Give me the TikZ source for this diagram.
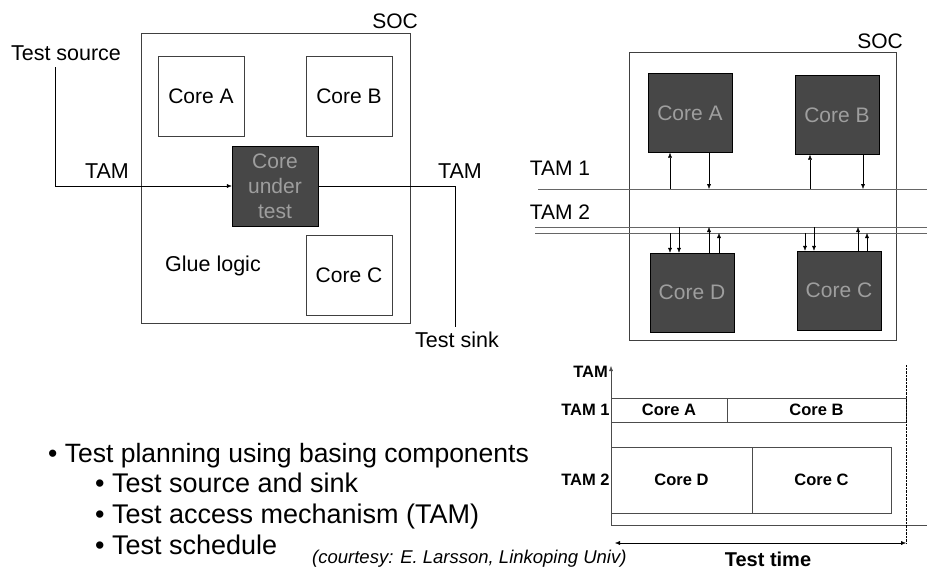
\documentclass[tikz,border=0pt]{standalone}
\usepackage{fontspec}
\setmainfont{Liberation Sans}
\usetikzlibrary{arrows.meta}

\begin{document}
\begin{tikzpicture}[x=1pt, y=-1pt, >={Latex[length=5pt,width=4pt]},
  font=\fontsize{21}{25}\selectfont,
  core/.style={rectangle, draw=black!75, fill=white, minimum width=86pt, minimum height=80pt, inner sep=0pt},
  dark/.style={rectangle, draw=black, fill=black!72, text=black!38, minimum width=84pt, minimum height=79pt, inner sep=0pt, align=center, font=\fontsize{21}{25}\selectfont},
  bus/.style={draw=black!60, line width=0.9pt},
  slot/.style={rectangle, draw=black!70, inner sep=0pt, font=\fontsize{16.5}{19}\selectfont\bfseries},
  lab/.style={inner sep=1pt, font=\fontsize{16.5}{19}\selectfont\bfseries},
  bullet/.style={anchor=base west, inner sep=0pt, font=\fontsize{27}{30}\selectfont}]
\useasboundingbox (0,0) rectangle (927,571);

% left: one core under test in the SOC
\node (soc1) [rectangle, draw=black!75, minimum width=269pt, minimum height=290pt] at (275.5,178) {};
\node (soc1lab) at (395,21) {SOC};
\node (la) [core] at (201,96) {Core A};
\node (lb) [core] at (349,96) {Core B};
\node (dut) [dark, minimum width=86pt, minimum height=80pt] at (275,186) {Core\\under\\test};
\node (lc) [core] at (349,275) {Core C};
\node (glue) [font=\fontsize{21.5}{25}\selectfont] at (213,266) {Glue logic};
\node (src) [font=\fontsize{21.5}{25}\selectfont] at (66,53) {Test source};
\node (snk) [font=\fontsize{21.5}{25}\selectfont] at (457,340) {Test sink};
\node (tamin) [font=\fontsize{21.5}{25}\selectfont] at (107,171) {TAM};
\node (tamout) [font=\fontsize{21.5}{25}\selectfont] at (460,171) {TAM};
\coordinate (srcend) at (55,67);
\coordinate (snkend) at (455,327);
\draw [->] (srcend) |- (dut.west);
\draw (dut.east) -| (snkend);

% right: cores on two TAMs
\node (soc2) [rectangle, draw=black!75, minimum width=267pt, minimum height=288pt] at (762.5,196) {};
\node (soc2lab) at (880,41) {SOC};
\node (ra) [dark] at (690,113) {Core A};
\node (rb) [dark] at (837,115) {Core B};
\node (rd) [dark] at (692,292.5) {Core D};
\node (rc) [dark] at (839,290.5) {Core C};
\coordinate (t1l) at (538,189);
\coordinate (t1r) at (927,189);
\coordinate (t2al) at (535,227);
\coordinate (t2ar) at (927,227);
\coordinate (t2bl) at (535,233);
\coordinate (t2br) at (927,233);
\draw [bus] (t1l) -- (t1r);
\draw [bus] (t2al) -- (t2ar);
\draw [bus] (t2bl) -- (t2br);
\node (tam1lab) at (560,168) {TAM 1};
\node (tam2lab) at (560,212) {TAM 2};
\draw [->] ([xshift=-20pt]ra.south |- t1l) -- ([xshift=-20pt]ra.south);
\draw [->] ([xshift=19pt]ra.south) -- ([xshift=19pt]ra.south |- t1l);
\draw [->] ([xshift=-27pt]rb.south |- t1l) -- ([xshift=-27pt]rb.south);
\draw [->] ([xshift=26pt]rb.south) -- ([xshift=26pt]rb.south |- t1l);
\draw [->] ([xshift=-22pt]rd.north |- t2bl) -- ([xshift=-22pt]rd.north);
\draw [->] ([xshift=-13pt]rd.north |- t2al) -- ([xshift=-13pt]rd.north);
\draw [->] ([xshift=17pt]rd.north) -- ([xshift=17pt]rd.north |- t2al);
\draw [->] ([xshift=27pt]rd.north) -- ([xshift=27pt]rd.north |- t2bl);
\draw [->] ([xshift=-34pt]rc.north |- t2bl) -- ([xshift=-34pt]rc.north);
\draw [->] ([xshift=-25pt]rc.north |- t2al) -- ([xshift=-25pt]rc.north);
\draw [->] ([xshift=19pt]rc.north) -- ([xshift=19pt]rc.north |- t2al);
\draw [->] ([xshift=28pt]rc.north) -- ([xshift=28pt]rc.north |- t2bl);

% test schedule
\coordinate (org) at (611,525);
\coordinate (ytop) at (611,366);
\coordinate (xend) at (927,525);
\draw [->, black!70] (org) -- (ytop);
\draw [black!70] (org) -- (xend);
\node (tamax) [lab, anchor=east] at (609,372) {TAM};
\node (sa) [slot, minimum width=116pt, minimum height=24pt] at (669,410) {Core A};
\node (sb) [slot, minimum width=179pt, minimum height=24pt] at (816.5,410) {Core B};
\node (sd) [slot, minimum width=141pt, minimum height=66pt] at (681.5,480) {Core D};
\node (sc) [slot, minimum width=139pt, minimum height=66pt] at (821.5,480) {Core C};
\node (tam1) [lab, anchor=east] at (sa.west) {TAM 1};
\node (tam2) [lab, anchor=east] at (sd.west) {TAM 2};
\coordinate (endtop) at (906,365);
\coordinate (endbot) at (906,543);
\coordinate (tl) at (615,543);
\draw [densely dotted] (endtop) -- (endbot);
\draw [<->] (tl) -- (endbot);
\node (ttime) [lab, anchor=base, font=\fontsize{20}{24}\selectfont\bfseries] at (768,566) {Test time};

% bullets
\node (b1) [bullet, font=\fontsize{26.5}{30}\selectfont] at (48,462) {• Test planning using basing components};
\node (b2) [bullet] at (95,492) {• Test source and sink};
\node (b3) [bullet] at (95,523) {• Test access mechanism (TAM)};
\node (b4) [bullet] at (95,554) {• Test schedule};
\node (credit) [bullet, font=\fontsize{18.5}{21}\selectfont\itshape] at (312,563) {(courtesy: E. Larsson, Linkoping Univ)};
\end{tikzpicture}
\end{document}
